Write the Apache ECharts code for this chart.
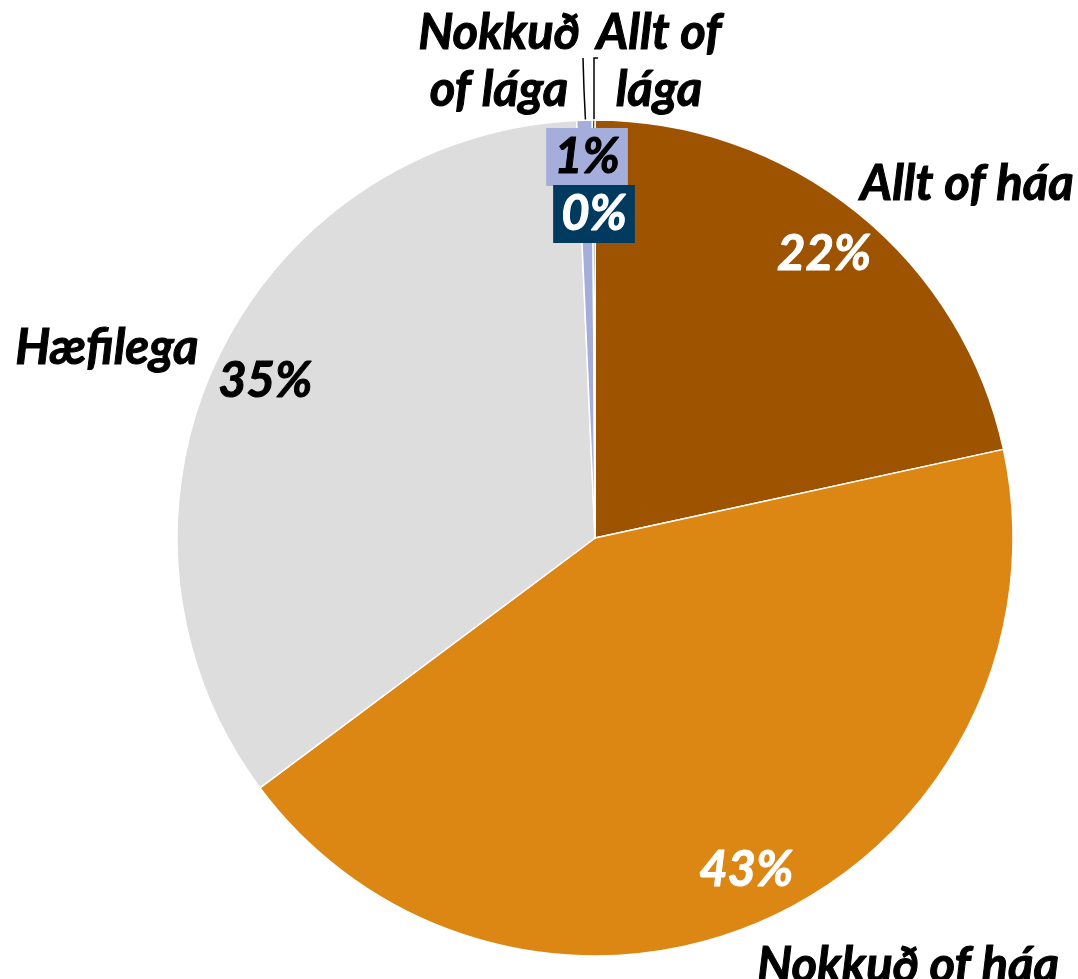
<!DOCTYPE html>
<html>
<head>
<meta charset="utf-8">
<script src="https://cdn.jsdelivr.net/npm/echarts@6/dist/echarts.min.js"></script>
<style>
  html, body { margin: 0; padding: 0; background: #fff; }
  #chart { width: 1078px; height: 979px; }
</style>
</head>
<body>
<div id="chart"></div>
<script>
// data
const categories = ["Allt of háa", "Nokkuð of háa", "Hæfilega", "Nokkuð\nof lága", "Allt of\nlága"];
const shares = [21.6, 43.2, 34.5, 0.6, 0.1];
const colors = ["#9E5300", "#DC8714", "#DDDDDD", "#A5ADDB", "#003A5F"];
const pctColors = ["#fff", "#fff", "#000", "#000", "#fff"];

var myChart = echarts.init(document.getElementById("chart"));

const font = "Lato";
const fs = 49;
const center = [595, 538];
const radius = 418;

// name label spots (placed by hand in the original)
const namePos = [[967, 184], [908, 966], [107, 348], [499, 62], [659, 62]];
// boxed percent labels of the two thin slices
const pctPos = { 3: [587, 157], 4: [594, 214] };

var option = {
  animation: false,
  series: [
    {
      // visible pie with category labels
      type: "pie",
      center: center,
      radius: [0, radius],
      startAngle: 90,
      clockwise: true,
      silent: true,
      itemStyle: { borderColor: "#fff", borderWidth: 1.5 },
      label: {
        show: true,
        position: "outside",
        formatter: "{b}",
        color: "#000",
        fontFamily: font,
        fontSize: fs,
        fontWeight: "bold",
        fontStyle: "italic",
        textBorderColor: "#000",
        textBorderWidth: 1,
        lineHeight: 57,
        overflow: "none"
      },
      labelLine: { show: false, lineStyle: { color: "#000", width: 1.5 } },
      labelLayout: function (p) {
        const i = p.dataIndex;
        const res = { x: namePos[i][0], y: namePos[i][1], align: "center", verticalAlign: "middle", width: 500 };
        if (i === 3) res.labelLinePoints = [[583, 58], [584, 90], [585.5, 121]];
        if (i === 4) res.labelLinePoints = [[598, 58], [594, 58], [594, 121]];
        return res;
      },
      data: shares.map((v, i) => ({
        name: categories[i],
        value: v,
        itemStyle: { color: colors[i] },
        labelLine: { show: i >= 3 }
      }))
    },
    {
      // transparent ring that carries the percent labels
      type: "pie",
      center: center,
      radius: [306, radius],
      startAngle: 90,
      clockwise: true,
      silent: true,
      itemStyle: { color: "rgba(0,0,0,0)", borderWidth: 0 },
      label: {
        show: true,
        position: "inside",
        formatter: function (p) { return Math.round(p.percent) + "%"; },
        fontFamily: font,
        fontSize: fs,
        fontWeight: "bold",
        fontStyle: "italic",
        textBorderWidth: 1
      },
      labelLine: { show: false },
      labelLayout: function (p) {
        const pos = pctPos[p.dataIndex];
        if (!pos) return {};
        return { x: pos[0], y: pos[1], align: "center", verticalAlign: "middle" };
      },
      data: shares.map((v, i) => ({
        name: categories[i],
        value: v,
        label: i >= 3
          ? { color: pctColors[i], textBorderColor: pctColors[i], backgroundColor: colors[i], padding: [2, 8, 2, 8], lineHeight: 54 }
          : { color: pctColors[i], textBorderColor: pctColors[i] }
      }))
    }
  ]
};

myChart.setOption(option);
</script>
</body>
</html>
